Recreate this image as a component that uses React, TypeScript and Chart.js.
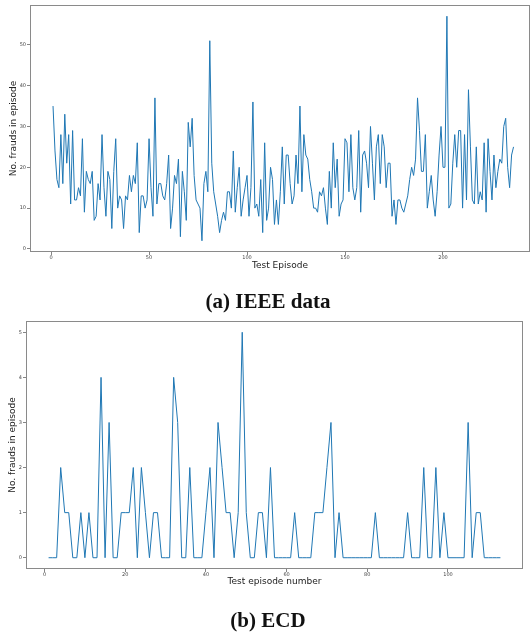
import React, { useEffect, useRef } from "react";
import { Chart, registerables } from "chart.js";

Chart.register(...registerables);

// ---- Data: (a) IEEE data ----
const IEEE_FRAUDS = [
  35, 24, 17, 15, 28, 16, 33, 21, 28, 11,
  29, 12, 12, 15, 13, 27, 9, 19, 17, 16,
  19, 7, 8, 16, 12, 28, 15, 8, 19, 17,
  5, 19, 27, 10, 13, 12, 5, 13, 12, 18,
  14, 18, 16, 26, 4, 13, 13, 10, 12, 27,
  15, 8, 37, 11, 16, 16, 13, 12, 16, 23,
  5, 10, 18, 16, 22, 3, 19, 14, 7, 31,
  25, 32, 18, 12, 11, 10, 2, 16, 19, 14,
  51, 21, 14, 11, 8, 4, 7, 9, 7, 14,
  14, 10, 24, 9, 15, 20, 8, 12, 15, 18,
  8, 15, 36, 10, 11, 8, 17, 4, 26, 7,
  10, 20, 17, 6, 12, 6, 14, 25, 11, 23,
  23, 16, 11, 13, 23, 16, 35, 14, 28, 23,
  22, 17, 14, 10, 10, 9, 14, 13, 15, 10,
  6, 19, 10, 26, 15, 22, 8, 11, 12, 27,
  26, 14, 28, 15, 12, 15, 29, 9, 23, 24,
  21, 15, 30, 21, 12, 25, 28, 16, 28, 25,
  15, 21, 21, 8, 12, 6, 12, 12, 10, 9,
  11, 13, 17, 20, 18, 22, 37, 29, 19, 19,
  28, 10, 14, 18, 12, 8, 14, 23, 30, 20,
  20, 57, 10, 11, 21, 28, 20, 29, 29, 10,
  28, 12, 39, 25, 12, 11, 25, 11, 14, 12,
  26, 9, 27, 19, 12, 23, 15, 19, 22, 21,
  30, 32, 20, 15, 23, 25,
];
const IEEE_X_TICKS = [0, 50, 100, 150, 200];
const IEEE_Y_TICKS = [0, 10, 20, 30, 40, 50];

// ---- Data: (b) ECD ----
const ECD_FRAUDS = [
  0, 0, 0, 2, 1, 1, 0, 0, 1, 0,
  1, 0, 0, 4, 0, 3, 0, 0, 1, 1,
  1, 2, 0, 2, 1, 0, 1, 1, 0, 0,
  0, 4, 3, 0, 0, 2, 0, 0, 0, 1,
  2, 0, 3, 2, 1, 1, 0, 1, 5, 1,
  0, 0, 1, 1, 0, 2, 0, 0, 0, 0,
  0, 1, 0, 0, 0, 0, 1, 1, 1, 2,
  3, 0, 1, 0, 0, 0, 0, 0, 0, 0,
  0, 1, 0, 0, 0, 0, 0, 0, 0, 1,
  0, 0, 0, 2, 0, 0, 2, 0, 1, 0,
  0, 0, 0, 0, 3, 0, 1, 1, 0, 0,
  0, 0, 0,
];
const ECD_X_TICKS = [0, 20, 40, 60, 80, 100];
const ECD_Y_TICKS = [0, 1, 2, 3, 4, 5];

const framePlugin = {
  id: "frame",
  afterDraw(chart: any) {
    const { ctx, chartArea } = chart;
    const { left, top, right, bottom } = chartArea;
    ctx.save();
    ctx.strokeStyle = "#8a8a8a";
    ctx.lineWidth = 1;
    ctx.strokeRect(left + 0.5, top + 0.5, right - left - 1, bottom - top - 1);
    ctx.restore();
  },
};

type Cfg = {
  values: number[];
  xTicks: number[];
  yTicks: number[];
  xMin: number;
  xMax: number;
  yMin: number;
  yMax: number;
  xTitle: string;
  yTitle: string;
  padding: { left: number; right: number; top: number; bottom: number };
  yWidth: number;
  xHeight: number;
  yTitlePad: number;
};

function buildConfig(c: Cfg): any {
  const tickFont = { size: 5, family: "DejaVu Sans" };
  const titleFont = { size: 9, family: "DejaVu Sans" };
  return {
    type: "line",
    data: {
      datasets: [
        {
          data: c.values.map((v, i) => ({ x: i + 1, y: v })),
          borderColor: "#1f77b4",
          borderWidth: 1,
          pointRadius: 0,
          tension: 0,
          fill: false,
        },
      ],
    },
    options: {
      animation: false,
      responsive: false,
      maintainAspectRatio: false,
      layout: { padding: c.padding },
      plugins: { legend: { display: false }, tooltip: { enabled: false } },
      scales: {
        x: {
          type: "linear",
          min: c.xMin,
          max: c.xMax,
          afterBuildTicks: (s: any) => {
            s.ticks = c.xTicks.map((v) => ({ value: v }));
          },
          afterFit: (s: any) => {
            s.height = c.xHeight;
          },
          grid: {
            display: true,
            drawOnChartArea: false,
            drawTicks: true,
            tickLength: 3,
            color: "#666",
            lineWidth: 0.8,
          },
          border: { display: false },
          ticks: {
            font: tickFont,
            color: "#444",
            padding: 0,
            maxRotation: 0,
            autoSkip: false,
          },
          title: {
            display: true,
            text: c.xTitle,
            font: titleFont,
            color: "#222",
            padding: { top: 0, bottom: 0 },
          },
        },
        y: {
          type: "linear",
          min: c.yMin,
          max: c.yMax,
          afterBuildTicks: (s: any) => {
            s.ticks = c.yTicks.map((v) => ({ value: v }));
          },
          afterFit: (s: any) => {
            s.width = c.yWidth;
          },
          grid: {
            display: true,
            drawOnChartArea: false,
            drawTicks: true,
            tickLength: 3,
            color: "#666",
            lineWidth: 0.8,
          },
          border: { display: false },
          ticks: {
            font: tickFont,
            color: "#444",
            padding: 1,
            autoSkip: false,
          },
          title: {
            display: true,
            text: c.yTitle,
            font: titleFont,
            color: "#222",
            padding: { top: c.yTitlePad, bottom: 0 },
          },
        },
      },
    },
    plugins: [framePlugin],
  };
}

function LineChart({ cfg, top }: { cfg: Cfg; top: number }) {
  const ref = useRef<HTMLCanvasElement | null>(null);
  useEffect(() => {
    if (!ref.current) return;
    const chart = new Chart(ref.current, buildConfig(cfg));
    return () => chart.destroy();
  }, []);
  return (
    <canvas
      ref={ref}
      width={531}
      height={290}
      style={{ position: "absolute", left: 0, top, width: 531, height: 290 }}
    />
  );
}

const captionStyle = (centerY: number): React.CSSProperties => ({
  position: "absolute",
  left: 0,
  width: 536,
  top: centerY - 11,
  height: 22,
  lineHeight: "22px",
  textAlign: "center",
  fontFamily: "'Liberation Serif', 'DejaVu Serif', serif",
  fontWeight: "bold",
  fontSize: 21,
  color: "#111",
});

export default function App() {
  const ieee: Cfg = {
    values: IEEE_FRAUDS,
    xTicks: IEEE_X_TICKS,
    yTicks: IEEE_Y_TICKS,
    xMin: -10.75,
    xMax: 244.4,
    yMin: -0.75,
    yMax: 59.75,
    xTitle: "Test Episode",
    yTitle: "No. frauds in episode",
    padding: { left: 0, right: 1, top: 5, bottom: 19 },
    yWidth: 30,
    xHeight: 19,
    yTitlePad: 8.6,
  };
  const ecd: Cfg = {
    values: ECD_FRAUDS,
    xTicks: ECD_X_TICKS,
    yTicks: ECD_Y_TICKS,
    xMin: -4.6,
    xMax: 118.6,
    yMin: -0.25,
    yMax: 5.25,
    xTitle: "Test episode number",
    yTitle: "No. frauds in episode",
    padding: { left: 0, right: 8, top: 11, bottom: 12.6 },
    yWidth: 26,
    xHeight: 18.4,
    yTitlePad: 7.6,
  };
  return (
    <div
      style={{
        position: "absolute",
        left: 0,
        top: 0,
        width: 531,
        height: 635,
        background: "#fff",
        overflow: "hidden",
      }}
    >
      <LineChart cfg={ieee} top={0} />
      <div style={captionStyle(301)}>(a) IEEE data</div>
      <LineChart cfg={ecd} top={310} />
      <div style={captionStyle(620)}>(b) ECD</div>
    </div>
  );
}
